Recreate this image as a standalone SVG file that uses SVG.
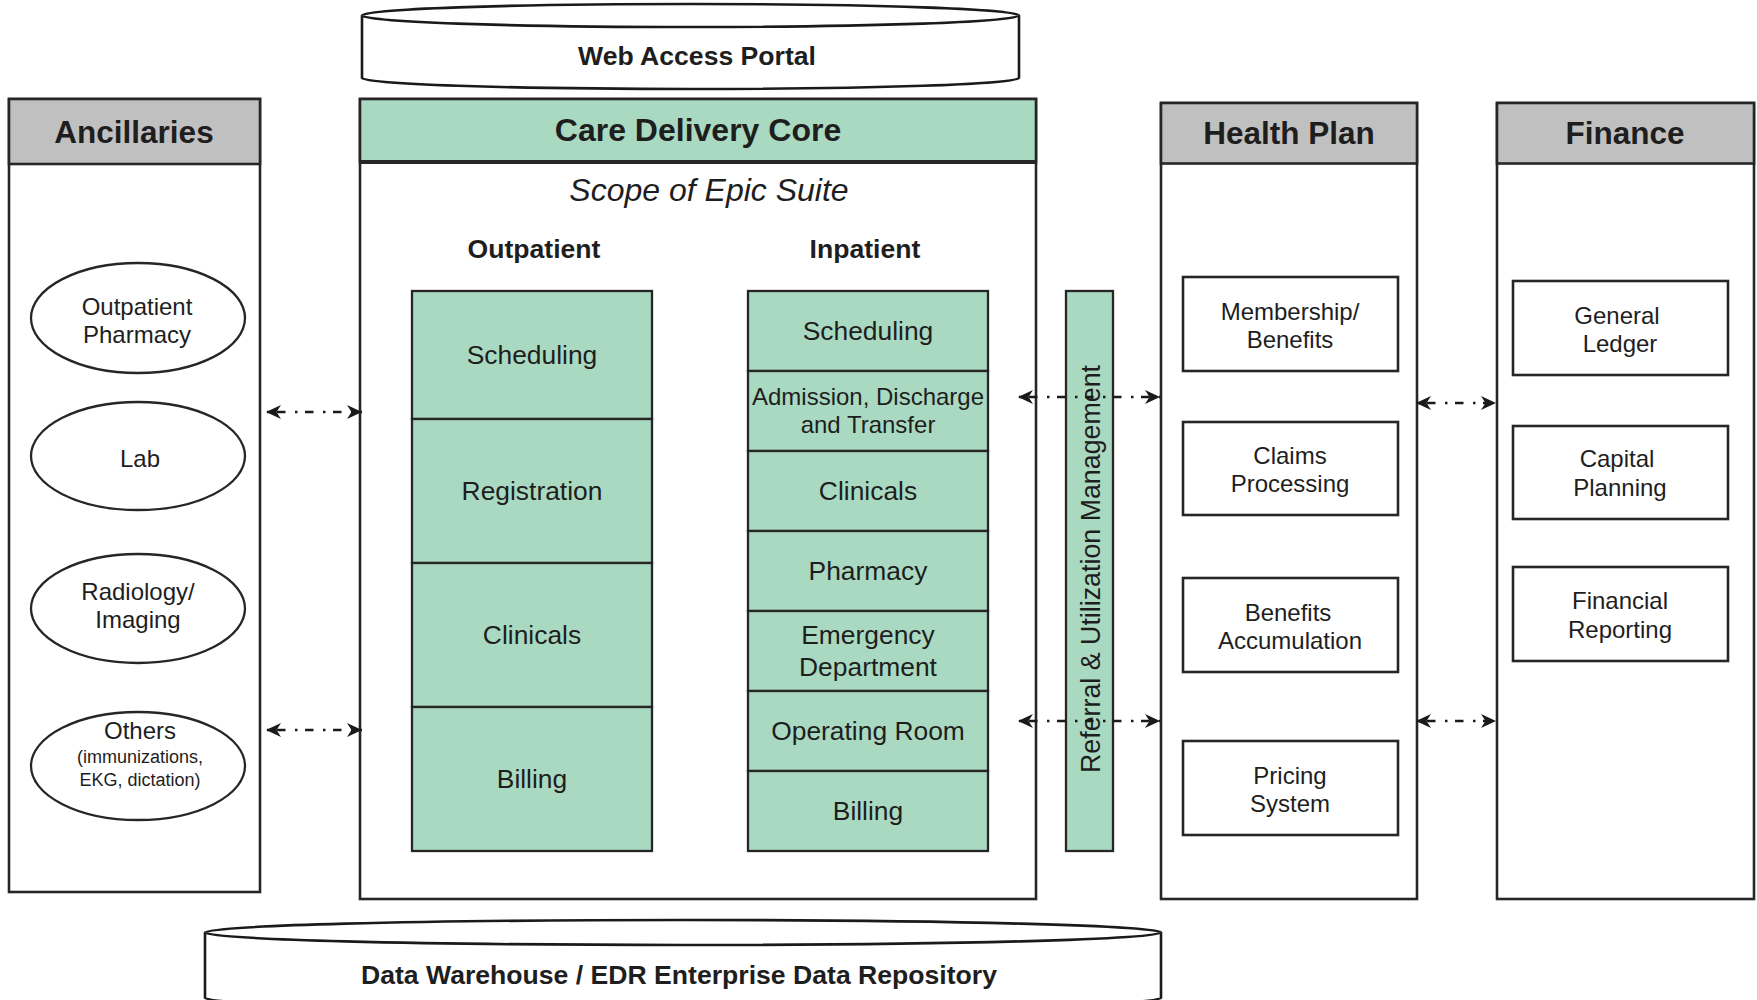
<svg xmlns="http://www.w3.org/2000/svg" width="1757" height="1000" viewBox="0 0 1757 1000">
  <defs>
    <style>
      text { font-family: "Liberation Sans", Arial, sans-serif; fill: #1e1e1e; text-anchor: middle; }
      .title { font-size: 31.5px; font-weight: bold; }
      .sub { font-size: 26.6px; font-weight: bold; }
      .mod { font-size: 26.4px; }
      .sm { font-size: 24px; }
      .xs { font-size: 18px; }
      .frame { fill: #ffffff; stroke: #262626; stroke-width: 2.6; }
      .hdr-grey { fill: #c0c0c0; stroke: #262626; stroke-width: 2.6; }
      .hdr-green { fill: #aad9c1; stroke: #262626; stroke-width: 2.6; }
      .cell { fill: #aad9c1; stroke: #262626; stroke-width: 2.3; }
      .box { fill: #ffffff; stroke: #262626; stroke-width: 2.6; }
      .oval { fill: #ffffff; stroke: #262626; stroke-width: 2.3; }
      .drum { fill: #ffffff; stroke: #1a1a1a; stroke-width: 2.6; }
      .link { fill: none; stroke: #1a1a1a; stroke-width: 2.4; stroke-dasharray: 2.5 7.5 8.5 9.5; stroke-dashoffset: 27; marker-start: url(#tip); marker-end: url(#tip); }
    </style>
    <marker id="tip" viewBox="0 0 15 14" markerWidth="15" markerHeight="14" refX="15" refY="7" markerUnits="userSpaceOnUse" orient="auto-start-reverse">
      <path d="M0,0 L15,7 L0,14 L4.5,7 Z" fill="#1a1a1a"/>
    </marker>
  </defs>

  <!-- Web Access Portal (drum) -->
  <g id="web-access-portal">
    <path class="drum" d="M362,15.5 V78 A328.5,11 0 0 0 1019,78 V15.5 A328.5,11.5 0 0 0 362,15.5 Z"/>
    <path class="drum" fill="none" d="M362,15.5 A328.5,11.5 0 0 0 1019,15.5"/>
    <text class="sub" x="697" y="65">Web Access Portal</text>
  </g>

  <!-- Ancillaries -->
  <g id="ancillaries">
    <rect class="frame" x="9" y="99" width="251" height="793"/>
    <rect class="hdr-grey" x="9" y="99" width="251" height="65"/>
    <text class="title" x="134" y="143">Ancillaries</text>
  </g>
  <g id="outpatient-pharmacy">
    <ellipse class="oval" cx="138" cy="318" rx="107" ry="55"/>
    <text class="sm" x="137" y="315">Outpatient</text>
    <text class="sm" x="137" y="343">Pharmacy</text>
  </g>
  <g id="lab">
    <ellipse class="oval" cx="138" cy="456" rx="107" ry="54"/>
    <text class="sm" x="140" y="467">Lab</text>
  </g>
  <g id="radiology">
    <ellipse class="oval" cx="138" cy="608.5" rx="107" ry="54.5"/>
    <text class="sm" x="138" y="600">Radiology/</text>
    <text class="sm" x="138" y="628">Imaging</text>
  </g>
  <g id="others">
    <ellipse class="oval" cx="138" cy="766" rx="107" ry="54"/>
    <text class="sm" x="140" y="739">Others</text>
    <text class="xs" x="140" y="763">(immunizations,</text>
    <text class="xs" x="140" y="786">EKG, dictation)</text>
  </g>

  <!-- Care Delivery Core -->
  <g id="care-delivery-core">
    <rect class="frame" x="360" y="99" width="676" height="800"/>
    <rect class="hdr-green" x="360" y="99" width="676" height="63"/>
    <line x1="360" y1="162" x2="1036" y2="162" stroke="#262626" stroke-width="4"/>
    <text class="title" x="698" y="141" style="font-size:32px">Care Delivery Core</text>
    <text x="709" y="201" style="font-size:32px;font-style:italic">Scope of Epic Suite</text>
    <text class="sub" x="534" y="258">Outpatient</text>
    <text class="sub" x="865" y="258">Inpatient</text>
  </g>

  <!-- Outpatient modules -->
  <g id="op-scheduling">
    <rect class="cell" x="412" y="291" width="240" height="128"/>
    <text class="mod" x="532" y="364">Scheduling</text>
  </g>
  <g id="op-registration">
    <rect class="cell" x="412" y="419" width="240" height="144"/>
    <text class="mod" x="532" y="500">Registration</text>
  </g>
  <g id="op-clinicals">
    <rect class="cell" x="412" y="563" width="240" height="144"/>
    <text class="mod" x="532" y="644">Clinicals</text>
  </g>
  <g id="op-billing">
    <rect class="cell" x="412" y="707" width="240" height="144"/>
    <text class="mod" x="532" y="788">Billing</text>
  </g>

  <!-- Inpatient modules -->
  <g id="ip-scheduling">
    <rect class="cell" x="748" y="291" width="240" height="80"/>
    <text class="mod" x="868" y="340">Scheduling</text>
  </g>
  <g id="ip-adt">
    <rect class="cell" x="748" y="371" width="240" height="80"/>
    <text class="sm" x="868" y="405">Admission, Discharge</text>
    <text class="sm" x="868" y="433">and Transfer</text>
  </g>
  <g id="ip-clinicals">
    <rect class="cell" x="748" y="451" width="240" height="80"/>
    <text class="mod" x="868" y="500">Clinicals</text>
  </g>
  <g id="ip-pharmacy">
    <rect class="cell" x="748" y="531" width="240" height="80"/>
    <text class="mod" x="868" y="580">Pharmacy</text>
  </g>
  <g id="ip-emergency">
    <rect class="cell" x="748" y="611" width="240" height="80"/>
    <text class="mod" x="868" y="644">Emergency</text>
    <text class="mod" x="868" y="676">Department</text>
  </g>
  <g id="ip-operating-room">
    <rect class="cell" x="748" y="691" width="240" height="80"/>
    <text class="mod" x="868" y="740">Operating Room</text>
  </g>
  <g id="ip-billing">
    <rect class="cell" x="748" y="771" width="240" height="80"/>
    <text class="mod" x="868" y="820">Billing</text>
  </g>

  <!-- Referral & Utilization Management bar -->
  <g id="referral-um">
    <rect class="cell" x="1066" y="291" width="47" height="560"/>
    <text class="mod" transform="translate(1100,569) rotate(-90)" style="font-size:26.8px">Referral &amp; Utilization Management</text>
  </g>

  <!-- Health Plan -->
  <g id="health-plan">
    <rect class="frame" x="1161" y="103" width="256" height="796"/>
    <rect class="hdr-grey" x="1161" y="103" width="256" height="60.5"/>
    <text class="title" x="1289" y="144">Health Plan</text>
  </g>
  <g id="membership">
    <rect class="box" x="1183" y="277" width="215" height="94"/>
    <text class="sm" x="1290" y="320">Membership/</text>
    <text class="sm" x="1290" y="348">Benefits</text>
  </g>
  <g id="claims">
    <rect class="box" x="1183" y="422" width="215" height="93"/>
    <text class="sm" x="1290" y="464">Claims</text>
    <text class="sm" x="1290" y="492">Processing</text>
  </g>
  <g id="benefits-accumulation">
    <rect class="box" x="1183" y="578" width="215" height="94"/>
    <text class="sm" x="1288" y="621">Benefits</text>
    <text class="sm" x="1290" y="649">Accumulation</text>
  </g>
  <g id="pricing">
    <rect class="box" x="1183" y="741" width="215" height="94"/>
    <text class="sm" x="1290" y="784">Pricing</text>
    <text class="sm" x="1290" y="812">System</text>
  </g>

  <!-- Finance -->
  <g id="finance">
    <rect class="frame" x="1497" y="103" width="257" height="796"/>
    <rect class="hdr-grey" x="1497" y="103" width="257" height="60.5"/>
    <text class="title" x="1625" y="144">Finance</text>
  </g>
  <g id="general-ledger">
    <rect class="box" x="1513" y="281" width="215" height="94"/>
    <text class="sm" x="1617" y="324">General</text>
    <text class="sm" x="1620" y="352">Ledger</text>
  </g>
  <g id="capital-planning">
    <rect class="box" x="1513" y="426" width="215" height="93"/>
    <text class="sm" x="1617" y="467">Capital</text>
    <text class="sm" x="1620" y="496">Planning</text>
  </g>
  <g id="financial-reporting">
    <rect class="box" x="1513" y="567" width="215" height="94"/>
    <text class="sm" x="1620" y="609">Financial</text>
    <text class="sm" x="1620" y="638">Reporting</text>
  </g>

  <!-- Data Warehouse (drum) -->
  <g id="data-warehouse">
    <path class="drum" d="M205,932.5 V998 A478,12 0 0 0 1161,998 V932.5 A478,12.5 0 0 0 205,932.5 Z"/>
    <path class="drum" fill="none" d="M205,932.5 A478,12.5 0 0 0 1161,932.5"/>
    <text class="sub" x="679" y="984">Data Warehouse / EDR Enterprise Data Repository</text>
  </g>

  <!-- Interfaces -->
  <g id="connectors">
    <line class="link" x1="266" y1="412" x2="362" y2="412"/>
    <line class="link" x1="266" y1="730" x2="362" y2="730"/>
    <line class="link" x1="1018" y1="397" x2="1160" y2="397"/>
    <line class="link" x1="1018" y1="721" x2="1160" y2="721"/>
    <line class="link" x1="1416" y1="403" x2="1496" y2="403"/>
    <line class="link" x1="1416" y1="721" x2="1496" y2="721"/>
  </g>
</svg>
